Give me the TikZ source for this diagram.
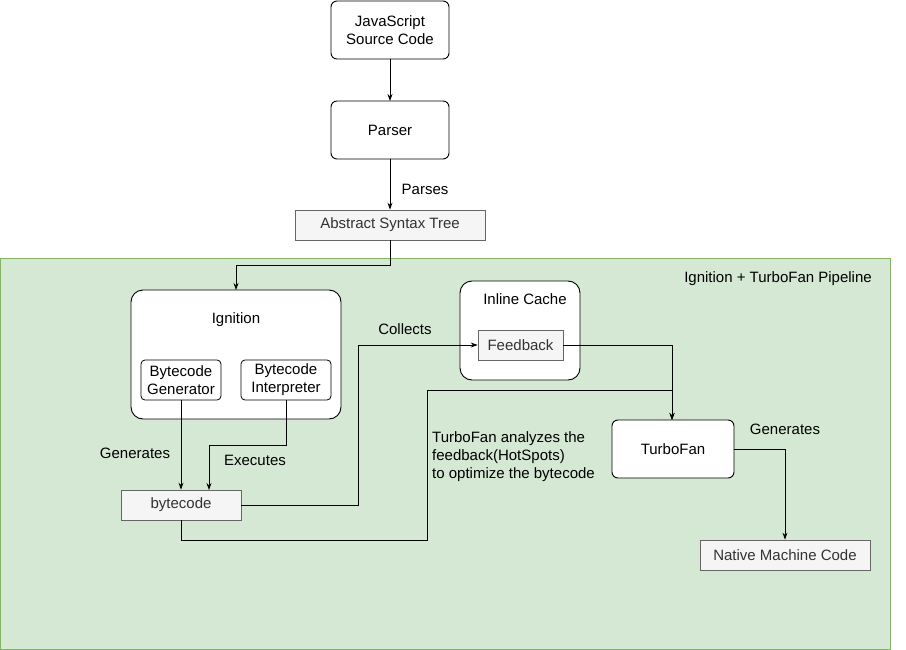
\documentclass[tikz,border=0pt]{standalone}
\usepackage{fontspec}
\setmainfont{Liberation Sans}
\usetikzlibrary{arrows.meta}
\definecolor{gfill}{HTML}{D5E8D4}
\definecolor{gline}{HTML}{82B366}
\definecolor{lfill}{HTML}{F5F5F5}
\definecolor{lline}{HTML}{666666}
\begin{document}
\begin{tikzpicture}[x=1pt,y=-1pt,
  every node/.style={font=\fontsize{15}{18}\selectfont, inner sep=0pt},
  box/.style={draw=black, fill=white, rounded corners=6pt, line width=0.9pt},
  lbox/.style={draw=lline, fill=lfill, line width=0.7pt, text=black!80},
  arr/.style={-{Stealth[length=7pt,width=5pt]}, line width=0.8pt}]
\useasboundingbox (0,0) rectangle (906,650);
\fill[gfill,draw=gline,line width=0.8pt] (0,258) rectangle (890,649);
\node (pipe) at (778,279) {Ignition + TurboFan Pipeline};

\draw[box] (331,1) rectangle (449,59);
\node[align=center] (js) at (390,30) {JavaScript\\Source Code};
\coordinate (jsb) at (390,59);
\draw[box] (331,101) rectangle (449,159);
\node (parser) at (390,130) {Parser};
\coordinate (pt) at (390,101);
\coordinate (pb) at (390,159);
\draw[arr] (jsb) -- (pt);
\node[lbox, minimum width=190, minimum height=30] (ast) at (390,225) {Abstract Syntax Tree};
\draw[arr] (pb) -- (ast.north);
\node (parses) at (425,189) {Parses};

\draw[box, rounded corners=12pt] (131,290) rectangle (341,419);
\node (ign) at (236,320) {Ignition};
\coordinate (ignt) at (236,290);
\draw[arr] (ast.south) -- (390,265) -- (236,265) -- (ignt);
\node[draw, fill=white, rounded corners=4pt, line width=0.8pt, minimum width=80, minimum height=40, align=center] (gen) at (181,380) {Bytecode\\Generator};
\node[draw, fill=white, rounded corners=4pt, line width=0.8pt, minimum width=90, minimum height=40, align=center] (int) at (286,380) {Bytecode\\Interpreter};

\node[lbox, minimum width=120, minimum height=30] (bc) at (181,505) {bytecode};
\draw[arr] (gen.south) -- (bc.north);
\node (g1) at (135,453) {Generates};
\draw[arr] (int.south) -- (286,445) -- (209,445) -- (209,490);
\node (ex) at (255,460) {Executes};

\draw[box, rounded corners=12pt] (460,281) rectangle (580,380);
\node (ic) at (525,299) {Inline Cache};
\node[lbox, minimum width=85, minimum height=30] (fb) at (520.5,345) {Feedback};
\draw[arr] (bc.east) -- (358,505) -- (358,345) -- (fb.west);
\node (col) at (405,329) {Collects};

\draw[box] (612,420) rectangle (734,478);
\node (tf) at (673,449) {TurboFan};
\coordinate (tft) at (672,420);
\draw[arr] (fb.east) -- (672,345) -- (tft);
\draw[arr] (bc.south) -- (181,540) -- (427,540) -- (427,390) -- (672,390) -- (tft);
\node[align=left, anchor=north west] (an) at (432,431) {TurboFan analyzes the\\feedback(HotSpots)\\to optimize the bytecode};

\node[lbox, minimum width=170, minimum height=30] (nat) at (785,555) {Native Machine Code};
\draw[arr] (734,449) -- (785,449) -- (nat.north);
\node (g2) at (785,429) {Generates};
\end{tikzpicture}
\end{document}
